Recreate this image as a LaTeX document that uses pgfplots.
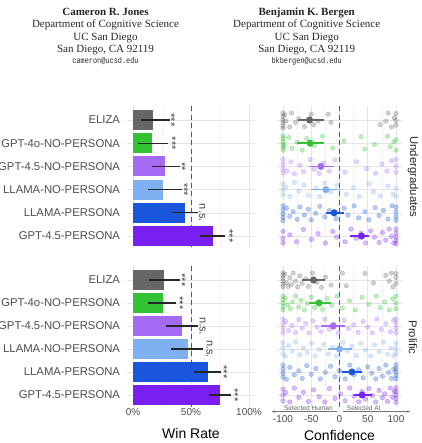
\documentclass[border=0pt]{standalone}
\usepackage{pgfplots}
\pgfplotsset{compat=1.18}
\usepackage{fontspec}
\setmainfont{Liberation Sans}
\newfontfamily\hdserif{Liberation Serif}
\newfontfamily\hdmono{Liberation Mono}
\usetikzlibrary{arrows.meta}

\definecolor{cEliza}{HTML}{666666}
\definecolor{cGfo}{HTML}{33C233}
\definecolor{cGn}{HTML}{A66BF5}
\definecolor{cLn}{HTML}{7EB0F2}
\definecolor{cLp}{HTML}{1A56DB}
\definecolor{cGp}{HTML}{7A1FF2}

\pgfplotsset{
  panel/.style={
    scale only axis, anchor=south west,
    y dir=reverse, ymin=-0.6, ymax=5.5, ytick={0,...,5},
    axis line style={draw=none}, tick style={draw=none},
    xmajorgrids, xminorgrids, ymajorgrids,
    major grid style={color=black!10, line width=0.6pt},
    minor grid style={color=black!5, line width=0.4pt},
    tick label style={font=\fontsize{10}{10}\selectfont, text=black!70},
    xticklabel style={anchor=north, inner sep=0pt},
  },
  winpanel/.style={panel, xmin=-5, xmax=105, width=127.6pt,
    xtick={0,50,100}, minor xtick={25,75},
    yticklabels={ELIZA,GPT-4o-NO-PERSONA,GPT-4.5-NO-PERSONA,LLAMA-NO-PERSONA,LLAMA-PERSONA,GPT-4.5-PERSONA},
    yticklabel style={font=\fontsize{11.3}{11.3}\selectfont, inner sep=0pt, xshift=-7pt},
  },
  confpanel/.style={panel, xmin=-110, xmax=110, width=124.3pt,
    xtick={-100,-50,0,50,100}, minor xtick={-75,-25,25,75}, yticklabels={},
  },
  refline/.style={black!65, dash pattern=on 5pt off 3.5pt, line width=0.9pt},
  winbar/.style={xbar, bar width=20pt, bar shift=0pt, draw=none, fill=#1,
    error bars/.cd, x dir=both, x explicit,
    error bar style={black!85, line width=1.1pt},
    error mark options={black!85, line width=1.1pt, mark size=2.5pt}},
  sig/.style={draw=none, nodes near coords, point meta=explicit symbolic,
    nodes near coords style={rotate=-90, anchor=center,
      font=\fontsize{11}{11}\selectfont, text=black!75}},
  jit/.style={only marks, mark=*, mark size=2.3pt, color=#1,
    mark options={fill opacity=0.3, draw opacity=0.35, line width=0.4pt}},
  meanpt/.style={only marks, mark=*, mark size=3.3pt, color=#1,
    error bars/.cd, x dir=both, x explicit,
    error bar style={#1, line width=1.6pt},
    error mark options={#1, line width=1.6pt, mark size=1.6pt}},
}

\begin{document}
\begin{tikzpicture}
\useasboundingbox (0,0) rectangle (421pt,443pt);

% author header
\begin{scope}[every node/.style={anchor=base, text=black!85}]
\node[font=\hdserif\bfseries\fontsize{11}{11}\selectfont] at (105.5pt,427.7pt) {Cameron R. Jones};
\node[font=\hdserif\fontsize{11}{11}\selectfont] at (105.5pt,415.1pt) {Department of Cognitive Science};
\node[font=\hdserif\fontsize{11}{11}\selectfont] at (105.5pt,402.7pt) {UC San Diego};
\node[font=\hdserif\fontsize{11}{11}\selectfont] at (105.5pt,390.1pt) {San Diego, CA 92119};
\node[font=\hdmono\fontsize{8.4}{8.4}\selectfont] at (105.5pt,379.3pt) {\scalebox{0.82}[1]{cameron@ucsd.edu}};
\node[font=\hdserif\bfseries\fontsize{11}{11}\selectfont] at (306.7pt,427.7pt) {Benjamin K. Bergen};
\node[font=\hdserif\fontsize{11}{11}\selectfont] at (306.7pt,415.1pt) {Department of Cognitive Science};
\node[font=\hdserif\fontsize{11}{11}\selectfont] at (306.7pt,402.7pt) {UC San Diego};
\node[font=\hdserif\fontsize{11}{11}\selectfont] at (306.7pt,390.1pt) {San Diego, CA 92119};
\node[font=\hdmono\fontsize{8.4}{8.4}\selectfont] at (306.7pt,379.3pt) {\scalebox{0.82}[1]{bkbergen@ucsd.edu}};
\end{scope}

% ---- win rate, undergraduates
\begin{axis}[winpanel, at={(127.2pt,195.4pt)}, height=141.5pt, xticklabels={}]
\addplot[refline] coordinates {(50,-0.6) (50,5.5)};
\addplot[winbar=cEliza] coordinates {(17.5,0) += (12,0) -= (8.5,0)};
\addplot[winbar=cGfo] coordinates {(16.2,1) += (12,0) -= (9.6,0)};
\addplot[winbar=cGn] coordinates {(27.6,2) += (11,0) -= (8.8,0)};
\addplot[winbar=cLn] coordinates {(25.7,3) += (14.3,0) -= (10.5,0)};
\addplot[winbar=cLp] coordinates {(44.8,4) += (9.5,0) -= (8.8,0)};
\addplot[winbar=cGp] coordinates {(69.3,5) += (8,0) -= (9.5,0)};
\addplot[sig] coordinates {(33,0)[***] (33.8,1)[***] (42.2,2)[**] (44,3)[***] (59.8,4)[n.s.] (83.2,5)[***]};
\end{axis}

% ---- win rate, prolific
\begin{axis}[winpanel, at={(127.2pt,36.5pt)}, height=140.3pt,
  xticklabels={0\%,50\%,100\%}, xticklabel style={yshift=-1.5pt},
  xlabel={Win Rate},
  xlabel style={at={(axis description cs:0.5,0)}, anchor=center, yshift=-26.5pt,
    font=\fontsize{14}{14}\selectfont}]
\addplot[refline] coordinates {(50,-0.6) (50,5.5)};
\addplot[winbar=cEliza] coordinates {(27,0) += (11,0) -= (11,0)};
\addplot[winbar=cGfo] coordinates {(26,1) += (9,0) -= (11,0)};
\addplot[winbar=cGn] coordinates {(42,2) += (11.6,0) -= (11,0)};
\addplot[winbar=cLn] coordinates {(47,3) += (11.6,0) -= (12,0)};
\addplot[winbar=cLp] coordinates {(65,4) += (8.7,0) -= (10,0)};
\addplot[winbar=cGp] coordinates {(75,5) += (7,0) -= (7,0)};
\addplot[sig] coordinates {(42.2,0)[***] (40.2,1)[***] (60,2)[n.s.] (66,3)[n.s.] (78.2,4)[***] (87.7,5)[***]};
\end{axis}

% ---- confidence, undergraduates
\begin{axis}[confpanel, at={(277.35pt,195.4pt)}, height=141.5pt, xticklabels={}]
\addplot[refline] coordinates {(0,-0.6) (0,5.5)};
\addplot[jit=cEliza] table[row sep=\\, x=c, y expr=\thisrow{j}+0] {c j\\
-100 -0.30\\ -100 -0.15\\ -100 0\\ -100 0.12\\ -100 0.25\\ -100 0.35\\ -97 -0.22\\ -95 0.05\\
-88 0.30\\ -85 -0.30\\ -78 0.10\\ -72 -0.05\\ -62 0.28\\ -50 -0.25\\ -46 0.20\\ -38 0.05\\
-20 -0.25\\ -15 0.10\\ 72 0.20\\ 82 0.05\\ 86 -0.30\\ 92 0.30\\ 97 -0.10\\ 100 -0.28\\ 100 0.02\\ 100 0.22\\};
\addplot[jit=cGfo] table[row sep=\\, x=c, y expr=\thisrow{j}+1] {c j\\
-100 -0.32\\ -100 -0.20\\ -100 -0.08\\ -100 0.05\\ -100 0.18\\ -100 0.30\\ -98 0.10\\ -90 -0.25\\
-84 0.22\\ -75 -0.05\\ -66 0.30\\ -58 -0.20\\ -45 0.10\\ -30 -0.30\\ -12 0.20\\ 8 -0.10\\
38 -0.28\\ 45 0.25\\ 62 0.05\\ 85 -0.30\\ 90 0.15\\ 96 -0.05\\ 100 0.30\\ 100 -0.15\\};
\addplot[jit=cGn] table[row sep=\\, x=c, y expr=\thisrow{j}+2] {c j\\
-100 -0.30\\ -100 -0.10\\ -100 0.10\\ -100 0.28\\ -93 0.20\\ -86 -0.20\\ -80 0.32\\ -70 -0.05\\
-64 0.22\\ -52 -0.30\\ -45 0.12\\ -36 0.30\\ -28 -0.15\\ -18 0.20\\ -8 -0.28\\ 10 0.25\\
30 -0.20\\ 48 0.10\\ 64 0.30\\ 75 -0.10\\ 84 0.20\\ 92 -0.25\\ 100 -0.30\\ 100 0\\ 100 0.25\\};
\addplot[jit=cLn] table[row sep=\\, x=c, y expr=\thisrow{j}+3] {c j\\
-100 -0.25\\ -100 0\\ -100 0.22\\ -95 -0.10\\ -88 0.30\\ -80 -0.30\\ -72 0.05\\ -63 -0.20\\
-55 0.25\\ -42 -0.05\\ -35 0.30\\ -26 -0.28\\ -15 0.10\\ -5 -0.18\\ 12 0.20\\ 25 -0.10\\
35 0.30\\ 52 -0.25\\ 60 0.10\\ 72 0.28\\ 86 -0.15\\ 95 0.20\\ 100 -0.05\\ 100 0.30\\};
\addplot[jit=cLp] table[row sep=\\, x=c, y expr=\thisrow{j}+4] {c j\\
-100 -0.30\\ -100 -0.12\\ -100 0.05\\ -100 0.20\\ -100 0.33\\ -94 -0.20\\ -88 0.15\\ -82 -0.05\\
-75 0.28\\ -70 -0.25\\ -62 0.10\\ -55 -0.15\\ -50 0.30\\ -42 0.02\\ -35 -0.28\\ -26 0.18\\
-18 -0.10\\ -6 0.25\\ 8 -0.20\\ 15 0.10\\ 26 -0.30\\ 34 0.22\\ 45 -0.05\\ 52 0.30\\
63 -0.22\\ 70 0.12\\ 78 -0.10\\ 86 0.27\\ 93 -0.30\\ 100 -0.25\\ 100 -0.05\\ 100 0.15\\ 100 0.32\\};
\addplot[jit=cGp] table[row sep=\\, x=c, y expr=\thisrow{j}+5] {c j\\
-100 -0.20\\ -100 0.10\\ -100 0.30\\ -88 -0.05\\ -76 0.25\\ -64 -0.28\\ -50 0.15\\ -38 -0.10\\
-25 0.30\\ -12 -0.20\\ -5 0.05\\ 10 0.25\\ 20 -0.30\\ 30 0.10\\ 38 -0.12\\ 46 0.30\\
55 -0.22\\ 62 0.05\\ 70 0.28\\ 76 -0.15\\ 82 0.18\\ 88 -0.30\\ 92 0.02\\ 96 0.30\\
100 -0.30\\ 100 -0.12\\ 100 0.05\\ 100 0.20\\ 100 0.33\\};
\addplot[meanpt=cEliza] coordinates {(-53,0) += (22,0) -= (17,0)};
\addplot[meanpt=cGfo] coordinates {(-52,1) += (21,0) -= (21,0)};
\addplot[meanpt=cGn] coordinates {(-33,2) += (21,0) -= (19,0)};
\addplot[meanpt=cLn] coordinates {(-24,3) += (24,0) -= (23,0)};
\addplot[meanpt=cLp] coordinates {(-9.5,4) += (14.5,0) -= (11.5,0)};
\addplot[meanpt=cGp] coordinates {(39,5) += (11,0) -= (17,0)};
\end{axis}

% ---- confidence, prolific
\begin{axis}[confpanel, at={(277.35pt,36.5pt)}, height=140.3pt, clip=false,
  xticklabels={-100,-50,0,50,100}, xticklabel style={yshift=-8.8pt},
  xlabel={Confidence},
  xlabel style={at={(axis description cs:0.5,0)}, anchor=center, yshift=-28.5pt,
    font=\fontsize{14}{14}\selectfont}]
\addplot[refline] coordinates {(0,-0.6) (0,5.5)};
\addplot[jit=cEliza] table[row sep=\\, x=c, y expr=\thisrow{j}+0] {c j\\
-100 -0.32\\ -100 -0.20\\ -100 -0.08\\ -100 0.05\\ -100 0.18\\ -100 0.30\\ -97 -0.25\\ -94 0.12\\
-91 0.28\\ -88 -0.10\\ -85 0.20\\ -82 -0.30\\ -78 0.05\\ -74 0.30\\ -70 -0.18\\ -66 0.15\\
-60 -0.05\\ -55 0.28\\ -48 -0.30\\ -40 0.10\\ -32 0.32\\ -25 -0.12\\ -15 0.22\\ 5 -0.30\\
12 0.25\\ 45 -0.28\\ 60 0.12\\ 82 -0.20\\ 88 0.05\\ 92 -0.30\\ 95 0.30\\ 100 -0.10\\ 100 0.15\\ 100 -0.28\\};
\addplot[jit=cGfo] table[row sep=\\, x=c, y expr=\thisrow{j}+1] {c j\\
-100 -0.30\\ -100 -0.15\\ -100 0\\ -100 0.15\\ -100 0.30\\ -96 -0.22\\ -92 0.08\\ -87 0.25\\
-83 -0.05\\ -78 -0.30\\ -72 0.18\\ -68 -0.12\\ -62 0.30\\ -57 0.02\\ -50 -0.25\\ -44 0.20\\
-38 -0.05\\ -30 0.28\\ -22 -0.20\\ -14 0.10\\ -4 -0.30\\ 5 0.22\\ 18 -0.10\\ 28 0.30\\
40 -0.25\\ 52 0.05\\ 65 -0.30\\ 72 0.20\\ 80 -0.05\\ 88 0.30\\ 94 -0.18\\ 100 -0.30\\ 100 0\\ 100 0.25\\};
\addplot[jit=cGn] table[row sep=\\, x=c, y expr=\thisrow{j}+2] {c j\\
-100 -0.30\\ -100 -0.10\\ -100 0.10\\ -100 0.30\\ -95 -0.20\\ -90 0.20\\ -84 -0.02\\ -78 0.28\\
-72 -0.28\\ -66 0.10\\ -60 -0.12\\ -54 0.30\\ -47 -0.22\\ -40 0.05\\ -33 0.25\\ -26 -0.30\\
-18 0.15\\ -10 -0.08\\ -2 0.30\\ 8 -0.25\\ 16 0.12\\ 25 -0.05\\ 33 0.28\\ 42 -0.20\\
50 0.05\\ 58 0.30\\ 66 -0.30\\ 74 0.15\\ 82 -0.10\\ 90 0.25\\ 96 -0.25\\ 100 -0.30\\ 100 -0.10\\ 100 0.10\\ 100 0.30\\};
\addplot[jit=cLn] table[row sep=\\, x=c, y expr=\thisrow{j}+3] {c j\\
-100 -0.28\\ -100 -0.05\\ -100 0.20\\ -96 0.32\\ -90 -0.15\\ -84 0.10\\ -78 -0.30\\ -70 0.25\\
-64 -0.05\\ -57 0.15\\ -50 -0.25\\ -43 0.30\\ -36 0.02\\ -28 -0.20\\ -20 0.22\\ -12 -0.08\\
-5 0.30\\ 6 -0.30\\ 14 0.10\\ 22 -0.12\\ 30 0.28\\ 38 -0.25\\ 46 0.05\\ 55 0.30\\
62 -0.18\\ 70 0.12\\ 78 -0.30\\ 85 0.22\\ 91 -0.05\\ 96 0.30\\ 100 -0.25\\ 100 0\\ 100 0.20\\};
\addplot[jit=cLp] table[row sep=\\, x=c, y expr=\thisrow{j}+4] {c j\\
-100 -0.30\\ -100 -0.12\\ -100 0.05\\ -100 0.22\\ -94 0.32\\ -88 -0.20\\ -80 0.12\\ -72 -0.05\\
-66 0.28\\ -58 -0.28\\ -50 0.10\\ -42 -0.15\\ -34 0.30\\ -25 0.02\\ -16 -0.25\\ -8 0.20\\
0 -0.05\\ 10 0.30\\ 18 -0.30\\ 26 0.12\\ 34 -0.10\\ 42 0.25\\ 50 -0.22\\ 57 0.05\\
64 0.30\\ 70 -0.15\\ 76 0.18\\ 82 -0.30\\ 87 0.02\\ 92 0.28\\ 96 -0.12\\ 100 -0.32\\
100 -0.15\\ 100 0\\ 100 0.15\\ 100 0.30\\};
\addplot[jit=cGp] table[row sep=\\, x=c, y expr=\thisrow{j}+5] {c j\\
-100 -0.25\\ -100 0\\ -100 0.25\\ -95 -0.10\\ -88 0.30\\ -80 -0.30\\ -72 0.10\\ -64 -0.12\\
-55 0.28\\ -46 -0.22\\ -36 0.08\\ -26 0.30\\ -18 -0.28\\ -8 0.15\\ 2 -0.05\\ 10 0.25\\
18 -0.30\\ 26 0.05\\ 34 0.30\\ 40 -0.15\\ 46 0.18\\ 52 -0.28\\ 58 0.02\\ 64 0.30\\
70 -0.20\\ 76 0.12\\ 80 -0.05\\ 85 0.28\\ 90 -0.30\\ 94 0.10\\ 97 -0.15\\ 100 -0.32\\
100 -0.15\\ 100 0\\ 100 0.15\\ 100 0.32\\};
\addplot[meanpt=cEliza] coordinates {(-46,0) += (18,0) -= (18,0)};
\addplot[meanpt=cGfo] coordinates {(-36,1) += (18,0) -= (15,0)};
\addplot[meanpt=cGn] coordinates {(-11,2) += (18,0) -= (19,0)};
\addplot[meanpt=cLn] coordinates {(0,3) += (19,0) -= (18,0)};
\addplot[meanpt=cLp] coordinates {(22,4) += (15,0) -= (15,0)};
\addplot[meanpt=cGp] coordinates {(40,5) += (15,0) -= (12,0)};
% direction annotation below the panel
\draw[black!55, line width=0.5pt, -{Stealth[length=3pt, width=2.5pt]}] (axis cs:-4,5.72) -- (axis cs:-120,5.72);
\draw[black!55, line width=0.5pt, -{Stealth[length=3pt, width=2.5pt]}] (axis cs:6,5.72) -- (axis cs:125,5.72);
\node[anchor=south, inner sep=0.6pt, font=\fontsize{6.6}{6.6}\selectfont, text=black!60] at (axis cs:-55,5.72) {Selected Human};
\node[anchor=south, inner sep=0.6pt, font=\fontsize{6.6}{6.6}\selectfont, text=black!60] at (axis cs:43,5.72) {Selected AI};
\end{axis}

% facet strips
\node[rotate=-90, font=\fontsize{11.3}{11.3}\selectfont, text=black!85] at (413pt,266pt) {Undergraduates};
\node[rotate=-90, font=\fontsize{11.3}{11.3}\selectfont, text=black!85] at (413pt,105.5pt) {Prolific};
\end{tikzpicture}
\end{document}
